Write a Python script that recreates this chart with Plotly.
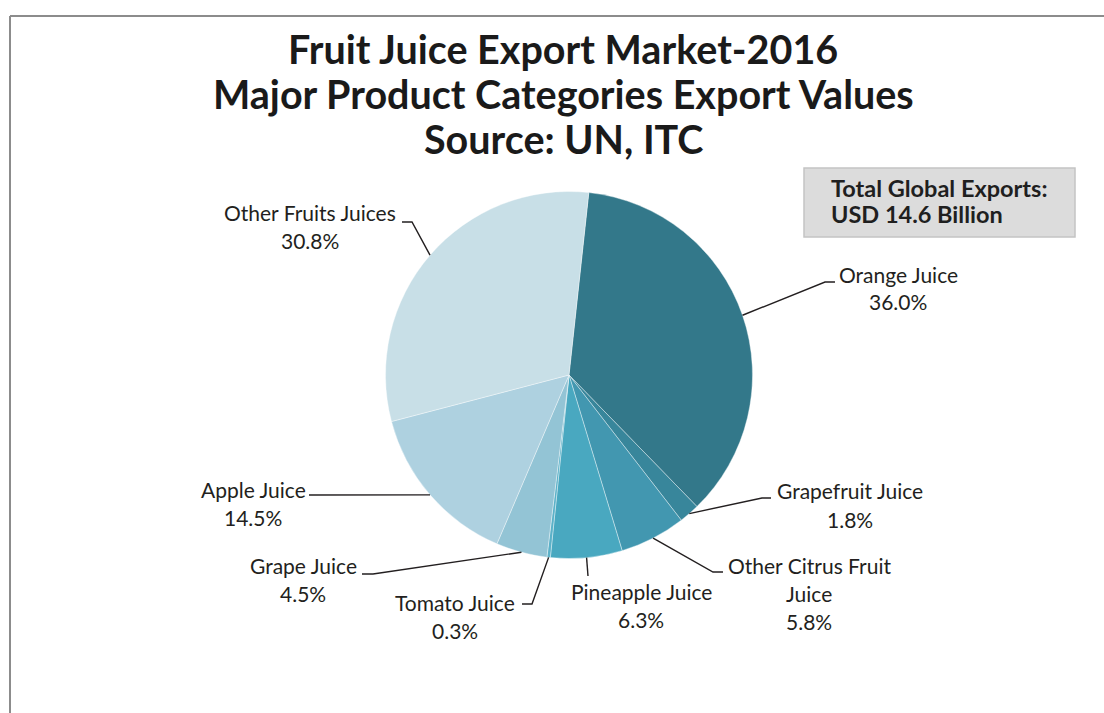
import math
import plotly.graph_objects as go

# Export share by product category (percent of total)
categories = [
    "Orange Juice",
    "Grapefruit Juice",
    "Other Citrus Fruit Juice",
    "Pineapple Juice",
    "Tomato Juice",
    "Grape Juice",
    "Apple Juice",
    "Other Fruits Juices",
]
shares = [36.0, 1.8, 5.8, 6.3, 0.3, 4.5, 14.5, 30.8]
label_lines = [
    ["Orange Juice"],
    ["Grapefruit Juice"],
    ["Other Citrus Fruit", "Juice"],
    ["Pineapple Juice"],
    ["Tomato Juice"],
    ["Grape Juice"],
    ["Apple Juice"],
    ["Other Fruits Juices"],
]
colors = ["#33788a", "#38869b", "#4297b0", "#49a8c0", "#5bb1c8",
          "#93c4d5", "#aed1e0", "#c8dfe7"]

title_lines = [
    "Fruit Juice Export Market-2016",
    "Major Product Categories Export Values",
    "Source: UN, ITC",
]
note_lines = ["Total Global Exports:", "USD 14.6 Billion"]

W, H = 1104, 713
CX, CY, R = 569, 375, 183.5   # pie centre and radius in pixels
ROTATION = 6.2                # first slice starts this many degrees clockwise from 12 o'clock

# label placement: first-line centre (px) and leader-line bends (px)
label_pos = [
    ((898, 274), [(825, 282), (835, 282)]),
    ((850, 491), [(762, 498), (771, 498)]),
    ((809, 565), [(713, 572), (723, 572)]),
    ((641, 591), [(588, 576)]),
    ((455, 602), [(532, 604), (522, 604)]),
    ((303, 565), [(373, 574), (362, 574)]),
    ((253, 489), [(309, 495)]),
    ((310, 212), [(412, 222), (402, 222)]),
]
LINE_STEP = 28
FONT = "Lato"
TEXT_COLOR = "#231f20"


def px(x):
    return x / W


def py(y):
    return 1 - y / H


fig = go.Figure()
fig.add_trace(go.Pie(
    labels=categories,
    values=shares,
    sort=False,
    direction="clockwise",
    rotation=ROTATION,
    textinfo="none",
    hoverinfo="label+percent",
    marker=dict(colors=colors, line=dict(color="rgba(255,255,255,0.55)", width=0.7)),
    domain=dict(x=[px(CX - R), px(CX + R)], y=[py(CY + R), py(CY - R)]),
    showlegend=False,
))

shapes = []
annotations = []

# leader lines from each slice's mid-angle on the rim to its label
total = sum(shares)
cum = 0.0
for val, lines, (anchor, bends) in zip(shares, label_lines, label_pos):
    mid = math.radians(ROTATION + (cum + val / 2) / total * 360)
    cum += val
    ex, ey = CX + R * math.sin(mid), CY - R * math.cos(mid)
    pts = [(ex, ey)] + bends
    path = "M " + " L ".join(f"{px(x):.5f},{py(y):.5f}" for x, y in pts)
    shapes.append(dict(type="path", path=path, xref="paper", yref="paper",
                       line=dict(color=TEXT_COLOR, width=1.4)))
    ax, ay = anchor
    texts = lines + [f"{val:.1f}%"]
    for i, t in enumerate(texts):
        annotations.append(dict(
            text=t, x=px(ax), y=py(ay + i * LINE_STEP), xref="paper", yref="paper",
            xanchor="center", yanchor="middle", showarrow=False,
            font=dict(family=FONT, size=21, color=TEXT_COLOR),
        ))

# title, one annotation per line
for i, (t, yy) in enumerate(zip(title_lines, [48, 94, 138])):
    annotations.append(dict(
        text=f"<b>{t}</b>", x=px(563), y=py(yy), xref="paper", yref="paper",
        xanchor="center", yanchor="middle", showarrow=False,
        font=dict(family=FONT, size=39.5, color="#1a1a1a"),
    ))

# total exports note box
shapes.append(dict(type="rect", xref="paper", yref="paper",
                   x0=px(804), x1=px(1075), y0=py(237), y1=py(168),
                   fillcolor="#dcdcdc", line=dict(color="#c4c4c4", width=1.5), layer="below"))
for t, yy in zip(note_lines, [188, 214]):
    annotations.append(dict(
        text=f"<b>{t}</b>", x=px(829), y=py(yy), xref="paper", yref="paper",
        xanchor="left", yanchor="middle", showarrow=False,
        font=dict(family=FONT, size=23.5, color="#1f1f1f"),
    ))

# outer frame (top and left edges)
shapes.append(dict(type="line", xref="paper", yref="paper",
                   x0=px(10), x1=1.0, y0=py(16), y1=py(16),
                   line=dict(color="#8c8c8c", width=2)))
shapes.append(dict(type="line", xref="paper", yref="paper",
                   x0=px(10), x1=px(10), y0=py(16), y1=0.0,
                   line=dict(color="#8c8c8c", width=2)))

fig.update_layout(
    width=W, height=H,
    margin=dict(l=0, r=0, t=0, b=0),
    paper_bgcolor="white",
    plot_bgcolor="white",
    shapes=shapes,
    annotations=annotations,
)

fig.write_html("out.html")
